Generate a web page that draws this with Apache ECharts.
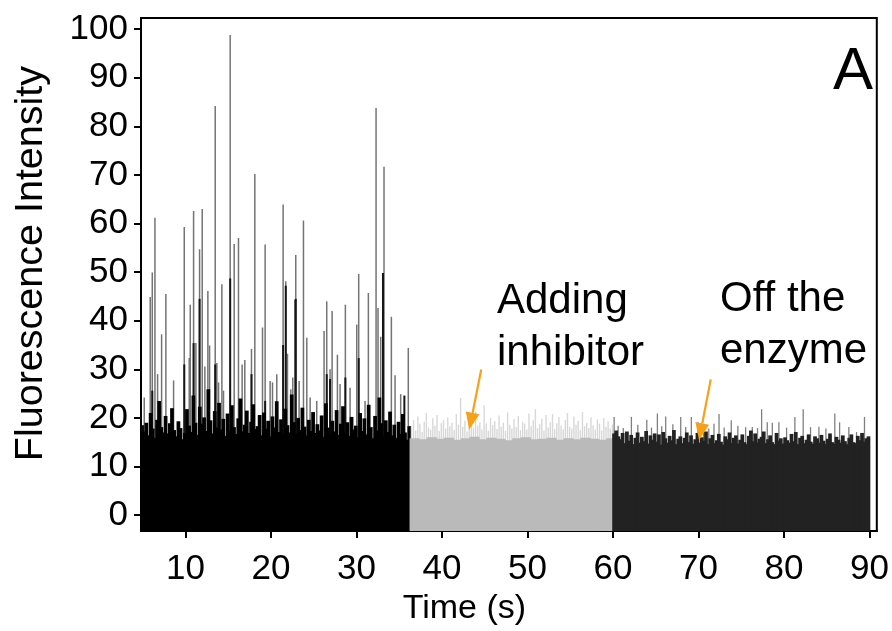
<!DOCTYPE html>
<html>
<head>
<meta charset="utf-8">
<script src="https://cdn.jsdelivr.net/npm/echarts@6/dist/echarts.min.js"></script>
<style>html,body{margin:0;padding:0;background:#fff}#c{width:892px;height:631px}</style>
</head>
<body>
<div id="c"></div>
<script>
// ---------------- data ----------------
const xTicks = [10, 20, 30, 40, 50, 60, 70, 80, 90];
const yTicks = [0, 10, 20, 30, 40, 50, 60, 70, 80, 90, 100];

// Segment 1 (before inhibitor): binned intensity, 0.25 s bins starting at 4.8 s
const blackStart = 4.8, binStep = 0.25;
const blackLevel = [
  18.5,17.2,19.0,16.4,21.0,17.8,15.9,19.6,23.5,18.1,17.0,20.4,16.8,18.9,22.0,17.5,16.2,19.3,17.9,15.6,
  16.9,21.8,18.4,17.1,24.6,19.0,16.5,22.3,18.8,20.1,17.3,25.9,19.5,16.8,21.4,18.0,23.1,17.6,19.8,16.3,
  20.9,17.4,22.6,18.1,16.7,19.9,24.0,17.2,18.6,21.5,16.9,19.2,22.8,17.7,18.3,20.6,16.4,21.1,17.8,19.4,
  16.2,20.3,18.0,23.4,17.1,19.7,16.6,21.9,18.5,17.0,24.8,19.1,16.8,20.0,17.5,22.1,18.2,16.4,19.6,17.3,
  21.2,16.9,18.7,17.4,20.5,16.1,23.0,18.0,16.7,19.4,17.2,21.6,16.5,18.8,22.4,17.0,19.1,16.3,20.2,17.6,
  18.4,16.0,21.0,17.3,19.9,16.6,22.7,18.1,15.8,20.4,17.4,24.2,18.9,16.2,19.5,17.1,21.3,16.4,18.6,15.9,
  19.2,16.7,20.8,17.0,15.5,18.3
];
// Burst spikes in segment 1: [time (s), intensity]
const blackSpikes = [
  [5.18,24.2],[5.88,44.9],[6.12,49.9],[6.43,61.2],[6.74,29.0],[7.21,37.2],[7.71,45.5],[8.61,27.7],
  [9.86,59.3],[10.44,32.3],[10.56,43.3],[10.95,62.6],[11.22,35.4],[11.65,54.7],[11.96,63.0],[12.27,30.6],
  [12.62,46.1],[12.82,34.9],[13.48,84.2],[13.67,31.3],[13.87,27.3],[14.26,47.5],[14.45,25.6],
  [15.23,98.8],[15.70,55.8],[16.20,57.0],[16.63,31.0],[16.94,31.9],[17.72,34.2],[18.11,70.2],[19.01,38.6],
  [19.32,55.7],[19.90,27.6],[20.18,27.3],[20.68,29.0],[21.42,63.9],[21.73,48.1],[21.93,33.2],[22.32,25.9],
  [22.55,28.3],[22.78,44.3],[22.90,53.5],[23.29,27.6],[23.80,60.6],[24.19,36.5],[24.58,24.2],[25.35,23.5],
  [26.21,37.9],[26.52,44.0],[26.91,30.0],[27.15,42.0],[27.77,33.0],[28.08,27.0],[28.70,43.3],[29.25,26.2],
  [30.03,39.2],[30.26,49.6],[31.00,23.5],[31.39,45.7],[32.29,83.8],[32.52,42.6],[32.83,36.7],[33.22,71.7],
  [34.08,40.8],[34.51,28.8],[35.17,24.9],[36.06,34.4]
];
// Darker (overlapping) lower parts of the spikes
const blackSpikeCores = [
  [6.12,25.6],[9.86,31.0],[10.95,35.4],[11.65,44.5],[13.48,31.0],[15.23,48.7],[17.72,29.0],[19.32,23.5],
  [21.42,35.0],[21.73,47.2],[22.90,44.5],[26.52,29.0],[26.91,28.0],[28.70,28.3],[30.26,32.3],[33.10,49.8],
  [35.60,24.6]
];

// Segment 2 (adding inhibitor)
const grayStart = 36.3;
const grayFloor = [15.8,15.6,16.0,15.7,15.9,15.5,15.8,16.1,15.6,15.9,15.7,15.4,15.8,16.0,15.6,15.7,15.9,15.5,15.8,15.6,15.9,15.7,15.5,15.8];
const grayLevel = [
  18.2,19.6,17.4,20.3,18.8,17.1,19.2,21.0,18.0,17.6,19.9,18.4,20.6,17.3,18.9,19.5,17.8,20.1,18.3,19.0,
  17.5,20.8,18.6,24.1,18.1,19.4,17.2,20.2,18.7,17.9,21.3,18.4,19.1,17.6,22.6,18.9,17.4,20.0,18.5,19.3,
  17.7,20.5,18.2,19.0,17.3,21.1,18.6,17.8,19.7,18.1,20.4,17.5,19.2,18.8,17.6,20.9,18.3,19.5,21.8,17.9,
  18.7,19.8,17.4,20.6,18.0,19.1,20.8,17.7,18.9,20.2,18.4,17.6,19.6,21.0,18.2,17.8,20.3,18.6,19.4,17.5,
  21.2,18.3,19.0,17.9,20.1,18.5,17.6,19.7,18.8,17.4,20.0,18.2,19.3,17.8,18.6
];

// Segment 3 (off the enzyme)
const darkStart = 60.0;
const darkLevel = [
  16.8,17.4,16.2,15.6,16.9,14.8,17.2,15.3,16.5,14.6,15.9,17.0,14.9,16.1,15.2,17.3,14.7,16.4,15.5,16.8,
  15.1,16.6,14.5,17.1,15.8,14.9,16.3,15.4,17.5,14.6,15.7,16.2,14.8,15.9,17.0,15.0,16.4,14.7,15.6,16.9,
  14.9,16.0,15.3,17.2,14.6,15.8,16.5,14.8,15.4,16.7,15.1,14.5,16.2,15.6,17.0,14.8,15.9,16.4,14.7,15.5,
  16.6,15.0,14.6,16.3,17.4,15.2,16.8,14.9,15.7,16.1,17.2,14.8,15.6,16.4,15.0,14.6,16.9,15.3,15.8,14.7,
  16.0,15.4,14.9,16.7,15.2,17.1,14.6,15.9,16.3,14.8,15.5,16.6,15.1,14.7,16.2,15.8,14.9,16.5,15.3,14.6,
  15.7,16.8,15.0,14.7,16.1,15.5,14.9,16.4,15.2,14.6,15.9,16.6,15.0,14.8,16.3,15.4,16.9,15.1,15.8,16.2
];
const darkTips = [
  [60.13,20.2],[60.6,18.4],[61.2,17.9],[62.15,20.2],[62.9,18.6],[63.95,19.6],[64.5,18.0],[65.19,20.9],
  [65.7,18.3],[66.16,20.3],[67.0,18.7],[67.92,20.2],[68.5,18.1],[69.16,20.2],[69.94,19.1],[70.6,18.2],
  [71.2,17.8],[71.81,18.8],[72.4,20.8],[73.0,18.0],[73.83,19.5],[74.6,18.4],[75.51,18.1],[76.29,18.1],
  [76.9,17.9],[77.38,21.8],[78.04,19.1],[78.63,19.0],[79.40,19.1],[80.3,18.0],[81.27,20.2],[82.24,21.8],
  [83.10,18.1],[84.08,18.2],[84.9,17.8],[85.94,20.9],[86.5,19.1],[87.58,18.1],[88.48,17.1],[89.41,20.2]
];

// Annotation arrows: [fromTime, fromValue, toTime, toValue]
const arrows = [[44.59, 29.96, 43.19, 17.59], [71.43, 27.93, 70.06, 15.42]];

// ---------------- build ----------------
const FONT = "'Liberation Sans', Arial, Helvetica, sans-serif";
function binned(arr, start, step) {
  return arr.map((v, i) => [start + (i + 0.5) * step, v]);
}

function barSeries(name, data, step, color, pxWidth, pad) {
  return {
    type: 'custom', name, data, clip: true, animation: false, silent: true,
    encode: { x: 0, y: 1 },
    renderItem: function (params, api) {
      const t = api.value(0), v = api.value(1);
      const top = api.coord([t, v]);
      const bottom = params.coordSys.y + params.coordSys.height;
      const w = pxWidth != null ? pxWidth : api.size([step, 0])[0] + (pad || 0);
      return {
        type: 'rect',
        shape: { x: top[0] - w / 2, y: top[1], width: w, height: bottom - top[1] },
        style: { fill: color, stroke: null, lineWidth: 0 }
      };
    }
  };
}

const arrowSeries = {
  type: 'custom', name: 'arrows', data: arrows, clip: false, animation: false, silent: true,
  encode: { x: [0, 2], y: [1, 3] },
  renderItem: function (params, api) {
    const a = api.coord([api.value(0), api.value(1)]);
    const b = api.coord([api.value(2), api.value(3)]);
    const dx = b[0] - a[0], dy = b[1] - a[1];
    const len = Math.sqrt(dx * dx + dy * dy);
    const ux = dx / len, uy = dy / len;
    const headL = 17, headW = 7;
    const bx = b[0] - ux * headL, by = b[1] - uy * headL;
    const col = '#f7a11a';
    return {
      type: 'group',
      children: [
        { type: 'line', shape: { x1: a[0], y1: a[1], x2: bx, y2: by }, style: { stroke: col, lineWidth: 2.2 } },
        { type: 'polygon', shape: { points: [[b[0], b[1]], [bx - uy * headW, by + ux * headW], [bx + uy * headW, by - ux * headW]] }, style: { fill: col } }
      ]
    };
  }
};

const chart = echarts.init(document.getElementById('c'), null, { renderer: 'canvas' });
chart.setOption({
  animation: false,
  backgroundColor: '#ffffff',
  grid: { left: 141, right: 14, top: 18, bottom: 92, show: true, borderColor: '#000', borderWidth: 2, backgroundColor: 'transparent' },
  xAxis: {
    type: 'value', min: 4.8, max: 90.85,
    axisLine: { show: true, onZero: false, lineStyle: { color: '#000', width: 2 } },
    axisTick: { show: true, customValues: xTicks, length: 7, lineStyle: { color: '#000', width: 2 } },
    axisLabel: { customValues: xTicks, fontSize: 35, color: '#000', margin: 21, fontFamily: FONT },
    splitLine: { show: false },
    name: 'Time (s)', nameLocation: 'middle', nameGap: 53,
    nameTextStyle: { fontSize: 34, color: '#000', fontFamily: FONT, padding: [0, 89, 0, 0] }
  },
  yAxis: {
    type: 'value', min: -3.3, max: 102.3,
    axisLine: { show: true, onZero: false, lineStyle: { color: '#000', width: 2 } },
    axisTick: { show: true, customValues: yTicks, length: 7, lineStyle: { color: '#000', width: 2 } },
    axisLabel: { customValues: yTicks, fontSize: 35, color: '#000', margin: 13, fontFamily: FONT, padding: [0, 0, 6, 0] },
    splitLine: { show: false },
    name: 'Fluorescence Intensity', nameLocation: 'middle', nameGap: 90, nameRotate: 90,
    nameTextStyle: { fontSize: 39.5, color: '#000', fontFamily: FONT, padding: [0, 0, 0, 22] }
  },
  series: [
    barSeries('spikes', blackSpikes, binStep, '#747474', 1.5),
    barSeries('spikeCores', blackSpikeCores, binStep, '#151515', 2),
    barSeries('before', binned(blackLevel, blackStart, binStep), binStep, '#000000', null, 1.6),
    barSeries('inhibitorTips', binned(grayLevel, grayStart, binStep), binStep, '#d8d8d8', 1.4),
    barSeries('inhibitor', binned(grayFloor, grayStart, 1), 1, '#bababa', null, 1.6),
    barSeries('offTips', darkTips, binStep, '#808080', 1.3),
    barSeries('off', binned(darkLevel, darkStart, binStep), binStep, '#222222', null, 1.6),
    arrowSeries
  ],
  graphic: [
    { type: 'text', left: 833, top: 42, style: { text: 'A', fontSize: 60, lineHeight: 60, fill: '#000', fontFamily: FONT } },
    { type: 'text', left: 497, top: 275, style: { text: 'Adding\ninhibitor', fontSize: 42, lineHeight: 52, fill: '#000', fontFamily: FONT } },
    { type: 'text', left: 720, top: 273, style: { text: 'Off the\nenzyme', fontSize: 42, lineHeight: 52, fill: '#000', fontFamily: FONT } }
  ]
});
</script>
</body>
</html>
